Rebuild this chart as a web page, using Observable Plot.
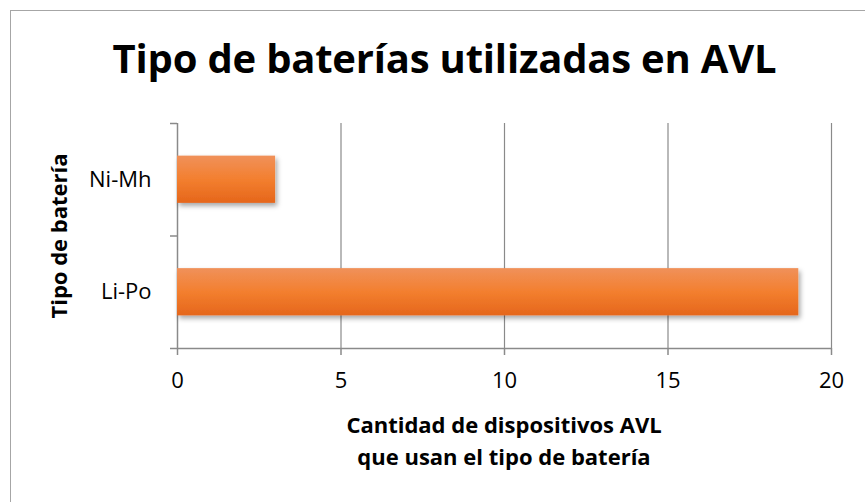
<!DOCTYPE html>
<html>
<head>
<meta charset="utf-8">
<script src="https://cdn.jsdelivr.net/npm/d3@7"></script>
<script src="https://cdn.jsdelivr.net/npm/@observablehq/plot@0.6"></script>
<style>
  html, body { margin: 0; padding: 0; background: #fff; }
  #wrap { position: relative; width: 865px; height: 502px; overflow: hidden; font-family: "Open Sans", sans-serif; }
  #frame { position: absolute; left: 10px; top: 10px; width: 900px; height: 600px; border: 1.5px solid #a6a6a6; box-sizing: border-box; }
  #title { position: absolute; left: 12px; width: 865px; top: 31px; text-align: center; font-weight: bold; font-size: 40px; line-height: 54px; color: #000; white-space: nowrap; letter-spacing: -0.2px; }
  #xlabel { position: absolute; left: 254px; width: 500px; top: 408px; text-align: center; font-weight: bold; font-size: 22px; line-height: 32px; color: #000; }
  #ylabel { position: absolute; left: 58px; top: 236px; transform: translate(-50%, -50%) rotate(-90deg); font-weight: bold; font-size: 22px; white-space: nowrap; color: #000; }
  #chart { position: absolute; left: 0; top: 0; }
</style>
</head>
<body>
<div id="wrap">
  <div id="frame"></div>
  <div id="chart"></div>
  <div id="title">Tipo de baterías utilizadas en AVL</div>
  <div id="ylabel">Tipo de batería</div>
  <div id="xlabel">Cantidad de dispositivos AVL<br>que usan el tipo de batería</div>
</div>
<script>
const categories = ["Li-Po", "Ni-Mh"];
const values = [19, 3];
const xTicks = [0, 5, 10, 15, 20];

const data = categories.map((c, i) => ({cat: c, value: values[i], pos: i + 0.5}));
const half = 0.21;
const lineColor = "#8a8a8a";

const chart = Plot.plot({
  width: 865,
  height: 502,
  marginLeft: 177,
  marginRight: 34,
  marginTop: 123,
  marginBottom: 154,
  style: {fontFamily: "Open Sans, sans-serif", fontSize: "22px", color: "#000", background: "transparent"},
  x: {domain: [0, 20]},
  y: {domain: [0, categories.length]},
  marks: [
    Plot.gridX(xTicks.slice(1), {stroke: lineColor, strokeOpacity: 1, strokeWidth: 1.2}),
    Plot.ruleX([0], {stroke: lineColor, strokeWidth: 1.5}),
    Plot.ruleY([0], {stroke: lineColor, strokeWidth: 1.5}),
    Plot.axisX(xTicks, {anchor: "bottom", tickSize: 7, tickPadding: 17, stroke: lineColor, strokeWidth: 1.5, fill: "#000", fontSize: 22, label: null}),
    Plot.axisY(d3.range(categories.length + 1), {anchor: "left", tickSize: 7, stroke: lineColor, strokeWidth: 1.5, tickFormat: () => "", label: null}),
    Plot.rectX(data, {x1: 0, x2: "value", y1: d => d.pos - half, y2: d => d.pos + half, fill: "url(#barGrad)"}),
    Plot.text(data, {x: 0, y: "pos", text: "cat", dx: -26, textAnchor: "end", fill: "#000", fontSize: 22})
  ]
});

const svg = d3.select(chart);
const defs = svg.insert("defs", ":first-child");
const grad = defs.append("linearGradient").attr("id", "barGrad").attr("x1", 0).attr("y1", 0).attr("x2", 0).attr("y2", 1);
grad.append("stop").attr("offset", "0%").attr("stop-color", "#f0915a");
grad.append("stop").attr("offset", "50%").attr("stop-color", "#f37f2f");
grad.append("stop").attr("offset", "100%").attr("stop-color", "#e5661b");
const f = defs.append("filter").attr("id", "barShadow").attr("x", "-10%").attr("y", "-20%").attr("width", "130%").attr("height", "160%");
f.append("feDropShadow").attr("dx", 2).attr("dy", 3).attr("stdDeviation", 2.5).attr("flood-color", "#000").attr("flood-opacity", 0.35);
svg.selectAll("g[aria-label='rect'] rect").attr("filter", "url(#barShadow)");

document.getElementById("chart").appendChild(chart);
</script>
</body>
</html>
